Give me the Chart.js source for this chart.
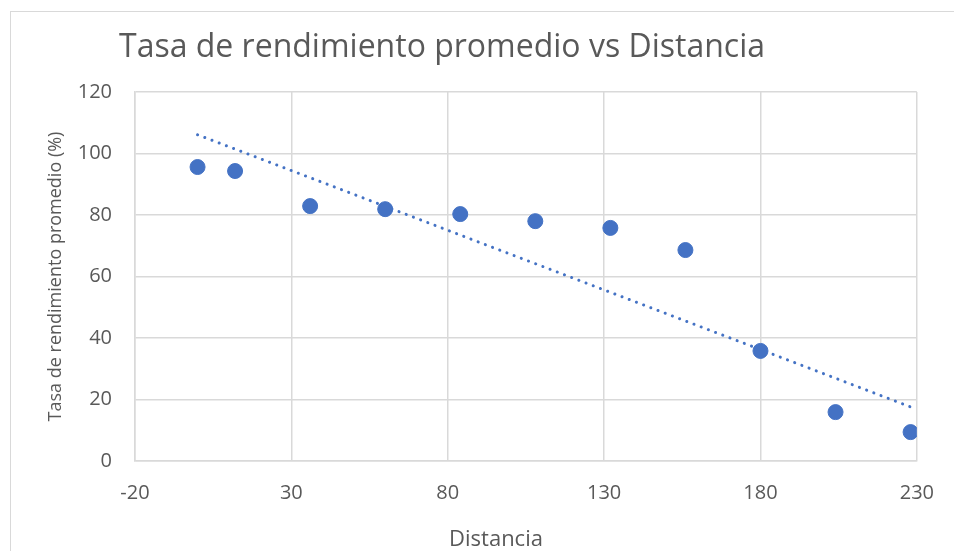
<!DOCTYPE html>
<html lang="es">
<head>
<meta charset="utf-8">
<title>Tasa de rendimiento promedio vs Distancia</title>
<script src="https://cdn.jsdelivr.net/npm/chart.js@4/dist/chart.umd.min.js"></script>
<style>
    html, body { margin: 0; padding: 0; background: #ffffff; }
    #chart-wrap { position: relative; width: 954px; height: 551px; }
</style>
</head>
<body>
<div id="chart-wrap">
    <canvas id="scatter-chart" width="954" height="551"></canvas>
</div>
<script>
// --- DATA ---
const distancia = [0, 12, 36, 60, 84, 108, 132, 156, 180, 204, 228];
const tasaRendimiento = [95.6, 94.3, 82.9, 81.9, 80.3, 78.0, 75.8, 68.6, 35.8, 15.9, 9.4];

// dotted trend line, ends
const trendX = [0, 228];
const trendY = [106.1, 17.6];

const xTicks = [-20, 30, 80, 130, 180, 230];
const yTicks = [0, 20, 40, 60, 80, 100, 120];

const chartTitle = 'Tasa de rendimiento promedio vs Distancia';
const xTitle = 'Distancia';
const yTitle = 'Tasa de rendimiento promedio (%)';

const FONT = "'Open Sans', 'Noto Sans', sans-serif";
const BLUE = '#4472C4';
const GRID = '#d9d9d9';
const TEXT = '#595959';

// frame, chart title and x axis title, placed where Excel put them
const excelDecor = {
    id: 'excelDecor',
    beforeDraw(chart) {
        const ctx = chart.ctx;
        ctx.save();
        ctx.strokeStyle = GRID;
        ctx.lineWidth = 1;
        ctx.strokeRect(10.5, 11.5, 1200, 1200);
        ctx.restore();
    },
    afterDraw(chart) {
        const ctx = chart.ctx;
        ctx.save();
        ctx.fillStyle = TEXT;
        ctx.textBaseline = 'alphabetic';
        ctx.textAlign = 'left';
        ctx.font = "32px " + FONT;
        ctx.fillText(chartTitle, 119, 57);
        ctx.textAlign = 'center';
        ctx.font = "22px " + FONT;
        ctx.fillText(xTitle, 496, 546);
        ctx.restore();
    }
};

const ctx = document.getElementById('scatter-chart');

new Chart(ctx, {
    type: 'scatter',
    data: {
        datasets: [
            {
                label: 'Tasa de rendimiento',
                data: distancia.map((d, i) => ({ x: d, y: tasaRendimiento[i] })),
                backgroundColor: BLUE,
                borderColor: BLUE,
                pointRadius: 7.5,
                pointHoverRadius: 7.5,
                order: 1
            },
            {
                label: 'Tendencia',
                type: 'line',
                data: trendX.map((d, i) => ({ x: d, y: trendY[i] })),
                borderColor: BLUE,
                borderWidth: 3,
                borderDash: [0.1, 7.6],
                borderCapStyle: 'round',
                pointRadius: 0,
                fill: false,
                order: 2
            }
        ]
    },
    options: {
        responsive: false,
        animation: false,
        layout: { padding: { top: 92, right: 36, bottom: 0, left: 0 } },
        plugins: {
            legend: { display: false },
            tooltip: { enabled: false }
        },
        scales: {
            x: {
                type: 'linear',
                min: xTicks[0],
                max: xTicks[xTicks.length - 1],
                afterBuildTicks: scale => { scale.ticks = xTicks.map(v => ({ value: v })); },
                afterFit: scale => { scale.height = 90; },
                grid: { color: GRID, lineWidth: 1.5, drawTicks: false },
                border: { color: GRID, width: 1.5 },
                ticks: {
                    color: TEXT,
                    padding: 20,
                    font: { family: FONT, size: 20 }
                },
                title: { display: false, text: xTitle }
            },
            y: {
                min: yTicks[0],
                max: yTicks[yTicks.length - 1],
                afterBuildTicks: scale => { scale.ticks = yTicks.map(v => ({ value: v })); },
                afterFit: scale => { scale.width = 135; },
                grid: { color: GRID, lineWidth: 1.5, drawTicks: false },
                border: { color: GRID, width: 1.5 },
                ticks: {
                    color: TEXT,
                    padding: 23,
                    font: { family: FONT, size: 20 }
                },
                title: {
                    display: true,
                    text: yTitle,
                    color: TEXT,
                    font: { family: FONT, size: 18 },
                    padding: { top: 45, bottom: 0 }
                }
            }
        }
    },
    plugins: [excelDecor]
});
</script>
</body>
</html>
